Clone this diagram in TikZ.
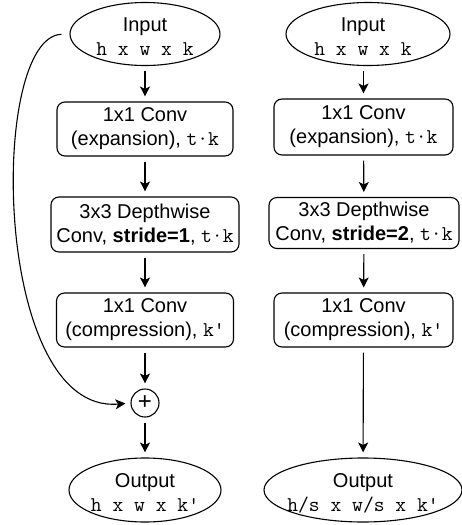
\documentclass[tikz,border=0pt]{standalone}
\usepackage{fontspec}
\setmainfont{Liberation Sans}
\usetikzlibrary{arrows.meta,shapes.geometric}
% typewriter shapes (tensor sizes, channel counts)
\newcommand\mtt[1]{{\fontsize{21}{24}\selectfont\ttfamily #1}}

\begin{document}
\begin{tikzpicture}[x=1pt,y=-1pt,
  txt/.style={font=\fontsize{20}{24}\selectfont},
  lbl/.style={txt, align=center, yshift=-3pt},
  blk/.style={draw, rounded corners=8pt, line width=1.1pt, align=center,
    inner sep=0pt, txt},
  term/.style={draw, ellipse, line width=1.1pt, inner sep=0pt},
  sum/.style={draw, circle, line width=1.1pt, minimum size=28pt, inner sep=0pt,
    font=\fontsize{24}{24}\selectfont},
  flow/.style={-{Stealth[length=10pt,width=10pt,inset=2.5pt]}, line width=1.1pt,
    shorten <=5pt, shorten >=5pt}]
\useasboundingbox (0,0) rectangle (461,525);

% residual block (stride 1)
\node[term, minimum width=150pt, minimum height=63pt,
  label={[lbl]center:Input\\\mtt{h x w x k}}] (inL) at (145,34) {};
\node[blk, minimum width=176pt, minimum height=54pt] (c1L) at (145,129)
  {1x1 Conv\\(expansion), \mtt{t·k}};
\node[blk, minimum width=188pt, minimum height=55pt] (c2L) at (145,224.5)
  {3x3 Depthwise\\Conv, \textbf{stride=1}, \mtt{t·k}};
\node[blk, minimum width=177pt, minimum height=54pt] (c3L) at (145,320)
  {1x1 Conv\\(compression), \mtt{k\char"27}};
\node[sum] (plus) at (145,403) {+};
\node[term, minimum width=152pt, minimum height=64pt,
  label={[lbl]center:Output\\\mtt{h x w x k\char"27}}] (outL) at (145,490) {};

\draw[flow] (inL) -- (c1L);
\draw[flow] (c1L) -- (c2L);
\draw[flow] (c2L) -- (c3L);
\draw[flow] (c3L) -- (plus);
\draw[flow] (plus) -- (outL);
\draw[flow, shorten <=8pt] (inL.west) .. controls (-12,37) and (-8,415) .. (plus.west);

% downsampling block (stride 2)
\node[term, minimum width=164pt, minimum height=63pt,
  label={[lbl, xshift=-5pt]center:Input\\\mtt{h x w x k}}] (inR) at (368,34) {};
\node[blk, minimum width=179pt, minimum height=56pt] (c1R) at (363.5,127)
  {1x1 Conv\\(expansion), \mtt{t·k}};
\node[blk, minimum width=190pt, minimum height=51pt] (c2R) at (364,223)
  {3x3 Depthwise\\Conv, \textbf{stride=2}, \mtt{t·k}};
\node[blk, minimum width=179pt, minimum height=54pt] (c3R) at (363.5,320)
  {1x1 Conv\\(compression), \mtt{k\char"27}};
\node[term, minimum width=198pt, minimum height=64pt,
  label={[lbl]center:Output\\\mtt{h/s x w/s x k\char"27}}] (outR) at (363,490) {};

\draw[flow] (inR.south -| c1R) -- (c1R);
\draw[flow] (c1R) -- (c2R);
\draw[flow] (c2R) -- (c3R);
\draw[flow] (c3R) -- (outR);
\end{tikzpicture}
\end{document}
